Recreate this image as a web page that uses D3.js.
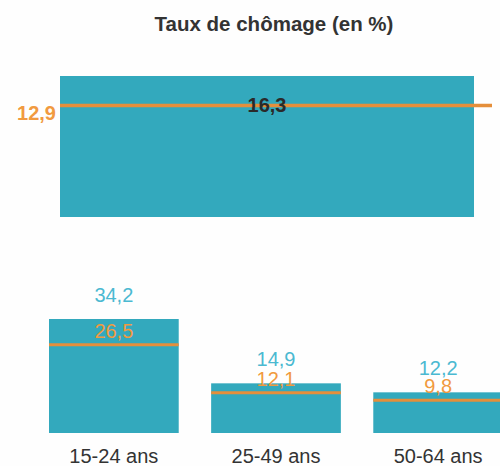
<!DOCTYPE html>
<html>
<head>
<meta charset="utf-8">
<script src="https://cdn.jsdelivr.net/npm/d3@7"></script>
<style>
  body { margin: 0; background: #fefefe; }
  text { font-family: "Liberation Sans", Arial, sans-serif; }
</style>
</head>
<body>
<div id="chart"></div>
<script>
// Taux de chômage (en %)
var totalLabel = ["Ensemble"];
var totalValue = [16.3];
var totalRef = [12.9];

var ageGroups = ["15-24 ans", "25-49 ans", "50-64 ans"];
var ageValues = [34.2, 14.9, 12.2];
var ageRef = [26.5, 12.1, 9.8];

var fmt = function(v) { return d3.format(".1f")(v).replace(".", ","); };

var svgWidth = 500;
var svgHeight = 466;
var barColor = "#33a9bd";
var lineColor = "#e58f3b";
var orangeText = "#f19a40";
var blueText = "#4bb9d1";

var svg = d3.select("#chart")
    .append("svg")
    .attr("width", svgWidth)
    .attr("height", svgHeight);

svg.append("text")
    .attr("x", 274)
    .attr("y", 31)
    .attr("text-anchor", "middle")
    .style("font-size", "20.5px")
    .style("font-weight", "bold")
    .style("fill", "#333")
    .text("Taux de chômage (en %)");

// top panel : ensemble
var xTop = d3.scaleBand()
    .domain(totalLabel)
    .range([60, 474]);

var yTop = d3.scaleLinear()
    .domain([0, d3.max(totalValue)])
    .range([217, 76]);

var topPanel = svg.append("g");

topPanel.selectAll("rect")
    .data(totalValue)
    .enter()
    .append("rect")
    .attr("x", (d, i) => xTop(totalLabel[i]))
    .attr("y", d => yTop(d))
    .attr("width", xTop.bandwidth())
    .attr("height", d => yTop(0) - yTop(d))
    .attr("fill", barColor);

topPanel.selectAll("line")
    .data(totalRef)
    .enter()
    .append("line")
    .attr("x1", (d, i) => xTop(totalLabel[i]))
    .attr("x2", (d, i) => xTop(totalLabel[i]) + xTop.bandwidth() + 18)
    .attr("y1", d => yTop(d))
    .attr("y2", d => yTop(d))
    .attr("stroke", lineColor)
    .attr("stroke-width", 3.5);

topPanel.selectAll(".refLabel")
    .data(totalRef)
    .enter()
    .append("text")
    .attr("class", "refLabel")
    .attr("x", (d, i) => xTop(totalLabel[i]) - 4)
    .attr("y", d => yTop(d) + 15)
    .attr("text-anchor", "end")
    .style("font-size", "20px")
    .style("font-weight", "bold")
    .style("fill", orangeText)
    .text(d => fmt(d));

topPanel.selectAll(".valLabel")
    .data(totalValue)
    .enter()
    .append("text")
    .attr("class", "valLabel")
    .attr("x", (d, i) => xTop(totalLabel[i]) + xTop.bandwidth() / 2)
    .attr("y", (d, i) => yTop(totalRef[i]) + 7)
    .attr("text-anchor", "middle")
    .style("font-size", "20px")
    .style("font-weight", "bold")
    .style("fill", "#2a2a2a")
    .text(d => fmt(d));

// bottom panel : par age
var x = d3.scaleBand()
    .domain(ageGroups)
    .range([49, 503])
    .paddingInner(0.2);

var y = d3.scaleLinear()
    .domain([0, d3.max(ageValues)])
    .range([433, 319]);

var bottomPanel = svg.append("g");

bottomPanel.selectAll("rect")
    .data(ageValues)
    .enter()
    .append("rect")
    .attr("x", (d, i) => x(ageGroups[i]))
    .attr("y", d => y(d))
    .attr("width", x.bandwidth())
    .attr("height", d => y(0) - y(d))
    .attr("fill", barColor);

bottomPanel.selectAll("line")
    .data(ageRef)
    .enter()
    .append("line")
    .attr("x1", (d, i) => x(ageGroups[i]))
    .attr("x2", (d, i) => x(ageGroups[i]) + x.bandwidth())
    .attr("y1", d => y(d))
    .attr("y2", d => y(d))
    .attr("stroke", lineColor)
    .attr("stroke-width", 3);

bottomPanel.selectAll(".valLabel")
    .data(ageValues)
    .enter()
    .append("text")
    .attr("class", "valLabel")
    .attr("x", (d, i) => x(ageGroups[i]) + x.bandwidth() / 2)
    .attr("y", d => y(d) - 17)
    .attr("text-anchor", "middle")
    .style("font-size", "20px")
    .style("fill", blueText)
    .text(d => fmt(d));

bottomPanel.selectAll(".refLabel")
    .data(ageRef)
    .enter()
    .append("text")
    .attr("class", "refLabel")
    .attr("x", (d, i) => x(ageGroups[i]) + x.bandwidth() / 2)
    .attr("y", d => y(d) - 7)
    .attr("text-anchor", "middle")
    .style("font-size", "20px")
    .style("fill", orangeText)
    .text(d => fmt(d));

bottomPanel.selectAll(".catLabel")
    .data(ageGroups)
    .enter()
    .append("text")
    .attr("class", "catLabel")
    .attr("x", d => x(d) + x.bandwidth() / 2)
    .attr("y", 463)
    .attr("text-anchor", "middle")
    .style("font-size", "20px")
    .style("fill", "#333")
    .text(d => d);
</script>
</body>
</html>
